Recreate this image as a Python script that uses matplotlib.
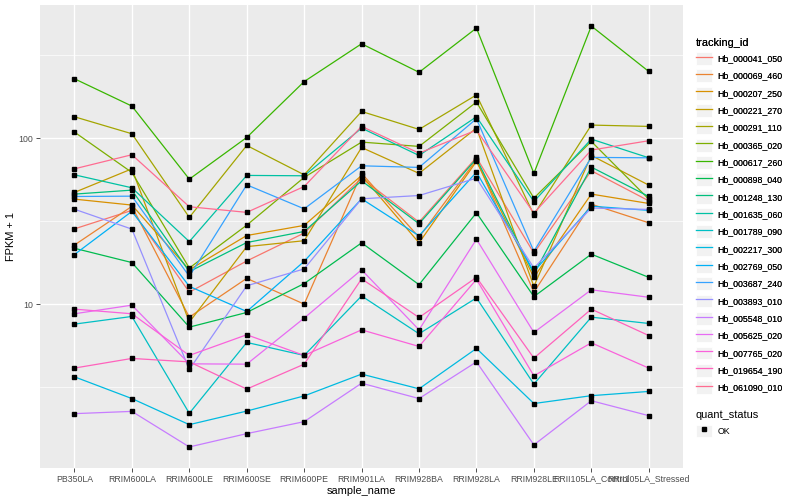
import matplotlib
matplotlib.use("Agg")
import matplotlib.pyplot as plt
from matplotlib.lines import Line2D
from matplotlib.patches import Rectangle
from matplotlib.legend_handler import HandlerTuple
import numpy as np

plt.rcParams['font.family'] = ['Liberation Sans', 'DejaVu Sans']

samples = ["PB350LA", "RRIM600LA", "RRIM600LE", "RRIM600SE", "RRIM600PE",
           "RRIM901LA", "RRIM928BA", "RRIM928LA", "RRIM928LE",
           "RRII105LA_Control", "RRII105LA_Stressed"]

tracking_ids = ["Hb_000041_050", "Hb_000069_460", "Hb_000207_250", "Hb_000221_270",
                "Hb_000291_110", "Hb_000365_020", "Hb_000617_260", "Hb_000898_040",
                "Hb_001248_130", "Hb_001635_060", "Hb_001789_090", "Hb_002217_300",
                "Hb_002769_050", "Hb_003687_240", "Hb_003893_010", "Hb_005548_010",
                "Hb_005625_020", "Hb_007765_020", "Hb_019654_190", "Hb_061090_010"]

# ggplot default hue palette for 20 levels
colors = ["#F8766D", "#EA8331", "#D89000", "#C09B00", "#A3A500", "#7CAE00",
          "#39B600", "#00BB4E", "#00BF7D", "#00C1A3", "#00BFC4", "#00BAE0",
          "#00B0F6", "#35A2FF", "#9590FF", "#C77CFF", "#E76BF3", "#FA62DB",
          "#FF62BC", "#FF6C91"]

# FPKM + 1 per gene, one value per sample (order of `samples`)
Hb_000041_050 = [28.4, 36.7, 11.8, 18.2, 26.8, 57.4, 31.2, 76.5, 20.3, 63.6, 41.9]
Hb_000069_460 = [22.7, 38.8, 8.35, 14.3, 10.0, 61.3, 25.3, 74.1, 11.8, 40.0, 30.9]
Hb_000207_250 = [42.9, 39.5, 16.1, 25.9, 29.8, 59.6, 23.4, 72.4, 14.5, 46.0, 40.4]
Hb_000221_270 = [47.1, 65.3, 7.79, 22.2, 24.1, 87.8, 61.3, 114.9, 12.8, 78.6, 52.1]
Hb_000291_110 = [134.4, 106.2, 33.3, 90.3, 60.1, 144.7, 112.8, 182.0, 34.5, 119.8, 117.6]
Hb_000365_020 = [108.7, 62.1, 16.5, 29.9, 58.0, 94.6, 89.1, 164.8, 43.5, 95.5, 42.9]
Hb_000617_260 = [227.7, 155.9, 56.6, 100.9, 219.0, 370.0, 249.0, 460.0, 61.3, 473.0, 252.0]
Hb_000898_040 = [21.7, 17.8, 7.27, 8.91, 13.3, 23.4, 13.1, 35.5, 11.1, 20.0, 14.5]
Hb_001248_130 = [46.0, 48.6, 15.7, 23.5, 27.4, 55.3, 30.5, 75.1, 15.2, 66.9, 44.5]
Hb_001635_060 = [60.1, 50.2, 23.8, 59.6, 59.3, 114.9, 78.6, 134.4, 41.5, 98.6, 76.1]
Hb_001789_090 = [7.58, 8.43, 2.20, 5.88, 4.91, 11.2, 6.63, 10.9, 3.30, 8.35, 7.65]
Hb_002217_300 = [3.65, 2.70, 1.88, 2.27, 2.80, 3.79, 3.09, 5.41, 2.52, 2.81, 2.98]
Hb_002769_050 = [19.9, 36.2, 12.8, 9.03, 18.1, 43.1, 25.8, 62.4, 15.7, 38.9, 36.7]
Hb_003687_240 = [44.5, 44.7, 14.7, 52.3, 37.5, 68.1, 66.6, 130.8, 20.8, 76.5, 76.1]
Hb_003893_010 = [37.3, 28.3, 4.04, 12.9, 16.3, 43.1, 45.1, 57.4, 16.5, 37.9, 37.2]
Hb_005548_010 = [2.19, 2.26, 1.38, 1.66, 1.96, 3.34, 2.70, 4.49, 1.42, 2.62, 2.13]
Hb_005625_020 = [8.75, 9.86, 4.37, 4.35, 8.24, 16.1, 7.00, 24.6, 6.75, 12.2, 11.0]
Hb_007765_020 = [9.33, 8.75, 4.91, 6.54, 4.91, 7.00, 5.56, 14.1, 3.70, 5.85, 4.12]
Hb_019654_190 = [4.12, 4.71, 4.49, 3.08, 4.35, 14.2, 8.31, 14.5, 4.73, 9.33, 6.47]
Hb_061090_010 = [65.3, 79.4, 38.6, 35.7, 51.1, 117.6, 81.2, 111.7, 35.3, 84.7, 96.4]

series = [Hb_000041_050, Hb_000069_460, Hb_000207_250, Hb_000221_270, Hb_000291_110,
          Hb_000365_020, Hb_000617_260, Hb_000898_040, Hb_001248_130, Hb_001635_060,
          Hb_001789_090, Hb_002217_300, Hb_002769_050, Hb_003687_240, Hb_003893_010,
          Hb_005548_010, Hb_005625_020, Hb_007765_020, Hb_019654_190, Hb_061090_010]

fig = plt.figure(figsize=(8, 5), dpi=100)
ax = fig.add_axes([0.05, 0.064, 0.804, 0.926])
ax.set_facecolor("#EBEBEB")
for s in ax.spines.values():
    s.set_visible(False)

x = np.arange(1, len(samples) + 1)
for vals, col in zip(series, colors):
    ax.plot(x, vals, color=col, lw=0.9, zorder=3)
for vals in series:
    ax.plot(x, vals, ls="none", marker="s", ms=2.6, color="black", zorder=4)

ax.set_yscale("log")
logs = np.log10(np.concatenate([np.array(v) for v in series]))
lo, hi = logs.min(), logs.max()
pad = 0.05 * (hi - lo)
ax.set_ylim(10 ** (lo - pad), 10 ** (hi + pad))
ax.set_xlim(0.4, len(samples) + 0.6)

ax.set_yticks([10, 100])
ax.set_yticklabels(["10", "100"])
ax.set_yticks([10 ** 0.5, 10 ** 1.5, 10 ** 2.5], minor=True)
ax.yaxis.set_minor_formatter(plt.NullFormatter())
ax.set_xticks(x)
ax.set_xticklabels(samples)
ax.tick_params(axis="both", which="major", length=2.8, width=0.6, color="#333333",
               labelsize=6.3, labelcolor="#4D4D4D", pad=2)
ax.tick_params(axis="y", which="minor", length=0)
ax.grid(True, which="major", color="white", lw=1.0, zorder=0)
ax.grid(True, which="minor", axis="y", color="white", lw=0.5, zorder=0)
ax.set_axisbelow(True)
ax.set_xlabel("sample_name", fontsize=7.9, labelpad=2)
ax.set_ylabel("FPKM + 1", fontsize=7.9)
ax.yaxis.set_label_coords(-0.037, 0.5)

# legends
def key_bg():
    return Rectangle((0, 0), 1, 1, facecolor="#F2F2F2", edgecolor="white", lw=0.6)

legend_opts = dict(loc="upper left", frameon=False, fontsize=6.3, title_fontsize=7.9,
                   alignment="left", handlelength=1.9, handleheight=1.9,
                   labelspacing=0.5, handletextpad=0.6, borderpad=0.2,
                   handler_map={tuple: HandlerTuple(ndivide=1, pad=0)})

handles = [(key_bg(), Line2D([], [], color=c, lw=0.9)) for c in colors]
leg1 = fig.legend(handles, tracking_ids, bbox_to_anchor=(0.862, 0.937),
                  title="tracking_id", **legend_opts)
fig.add_artist(leg1)
ok = (key_bg(), Line2D([], [], ls="none", marker="s", ms=2.6, color="black"))
fig.legend([ok], ["OK"], bbox_to_anchor=(0.862, 0.192), title="quant_status",
           **legend_opts)

fig.savefig("out.png", dpi=100)
